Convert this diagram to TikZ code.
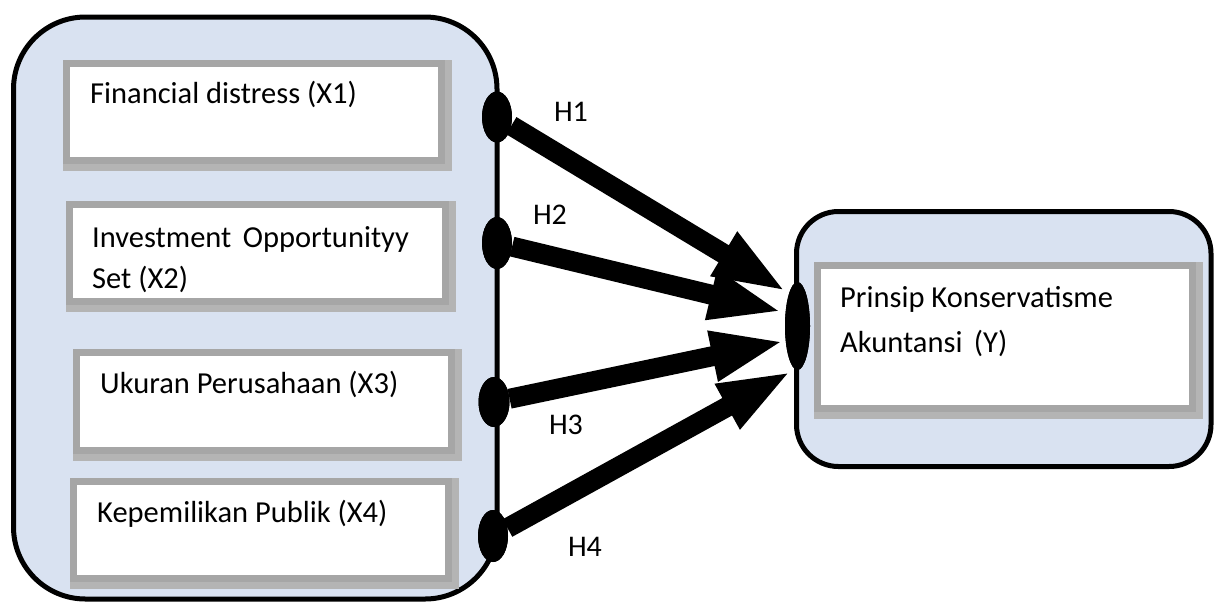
\documentclass[tikz,border=0pt]{standalone}
\usepackage{fontspec}
\setmainfont{Carlito}
\usetikzlibrary{shapes.geometric,arrows.meta}
\definecolor{panel}{HTML}{D9E2F1}
\definecolor{boxgray}{HTML}{A6A6A6}
\definecolor{shadowgray}{HTML}{B4B4B4}
\tikzset{
  container/.style={rectangle, draw=black, fill=panel, line width=5pt, inner sep=0pt},
  varbox/.style={rectangle, draw=boxgray, fill=white, line width=7pt, inner sep=0pt},
  knob/.style={ellipse, fill=black, inner sep=0pt},
  txt/.style={font=\fontsize{30.5}{42}\selectfont, text=black, inner sep=0pt, align=left},
  hyp/.style={font=\fontsize{30}{36}\selectfont, text=black, inner sep=0pt},
  arr/.style={line width=20pt, -{Triangle[length=74pt,width=46pt]}},
}
\newcommand{\boxshadow}[1]{%
  \draw[draw=shadowgray, line width=7pt] ([shift={(3,3)}]#1.south west) rectangle ([shift={(3,3)}]#1.north east);}
\begin{document}
\begin{tikzpicture}[x=1pt,y=-1pt]
\useasboundingbox (0,0) rectangle (1215,606);
% containers
\node[container, rounded corners=72pt, minimum width=483.5pt, minimum height=582pt] (left) at (255.25,308) {};
\node[container, rounded corners=42pt, minimum width=414.5pt, minimum height=255pt] (right) at (1003.75,339) {};
% variable boxes
\node[varbox, minimum width=375pt, minimum height=97pt] (b1) at (254,112) {};
\node[varbox, minimum width=376pt, minimum height=97pt] (b2) at (257.5,253) {};
\node[varbox, minimum width=375pt, minimum height=98pt] (b3) at (264,401.5) {};
\node[varbox, minimum width=375pt, minimum height=97pt] (b4) at (261,530) {};
\node[varbox, minimum width=375pt, minimum height=143pt] (by) at (1005,337) {};
\boxshadow{b1}\boxshadow{b2}\boxshadow{b3}\boxshadow{b4}\boxshadow{by}
\node[varbox, minimum width=375pt, minimum height=97pt] at (b1) {};
\node[varbox, minimum width=376pt, minimum height=97pt] at (b2) {};
\node[varbox, minimum width=375pt, minimum height=98pt] at (b3) {};
\node[varbox, minimum width=375pt, minimum height=97pt] at (b4) {};
\node[varbox, minimum width=375pt, minimum height=143pt] at (by) {};
% texts
\node[txt, anchor=base west] (t1) at (90,103) {Financial distress (X1)};
\node[txt, anchor=base west] (t2a) at (92,247) {Investment\hspace{0.15em} Opportunityy};
\node[txt, anchor=base west] (t2b) at (92,288) {Set (X2)};
\node[txt, anchor=base west] (t3) at (100,393) {Ukuran Perusahaan (X3)};
\node[txt, anchor=base west] (t4) at (97,522) {Kepemilikan Publik (X4)};
\node[txt, anchor=base west] (ty1) at (840,307) {Prinsip Konservatisme};
\node[txt, anchor=base west] (ty2) at (840,352) {Akuntansi\hspace{0.15em} (Y)};
% knobs
\node[knob, minimum width=30pt, minimum height=51pt] (e1) at (497,117) {};
\node[knob, minimum width=30pt, minimum height=52pt] (e2) at (497,243) {};
\node[knob, minimum width=31pt, minimum height=50pt] (e3) at (494,402) {};
\node[knob, minimum width=30pt, minimum height=52pt] (e4) at (493,536) {};
\node[knob, minimum width=25pt, minimum height=88pt] (et) at (797.5,326) {};
% arrow tips
\coordinate (p1) at (787,292);
\coordinate (p2) at (783,312);
\coordinate (p3) at (785,341);
\coordinate (p4) at (792,371);
\draw[arr] (e1) -- (p1);
\draw[arr] (e2) -- (p2);
\draw[arr] (e3) -- (p3);
\draw[arr] (e4) -- (p4);
\node[knob, minimum width=30pt, minimum height=51pt] at (e1) {};
\node[knob, minimum width=30pt, minimum height=52pt] at (e2) {};
\node[knob, minimum width=31pt, minimum height=50pt] at (e3) {};
\node[knob, minimum width=30pt, minimum height=52pt] at (e4) {};
\node[knob, minimum width=25pt, minimum height=88pt] at (et) {};
% labels
\node[hyp] (h1) at (571,112) {H1};
\node[hyp] (h2) at (550,215) {H2};
\node[hyp] (h3) at (566,425) {H3};
\node[hyp] (h4) at (585,547) {H4};
\end{tikzpicture}
\end{document}
